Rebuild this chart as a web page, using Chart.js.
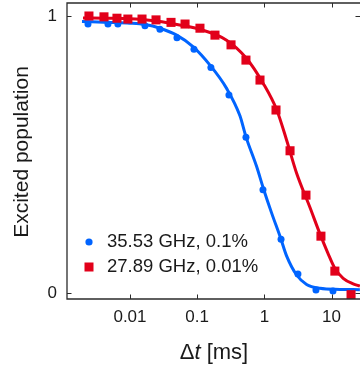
<!DOCTYPE html>
<html lang="en">
<head>
    <meta charset="UTF-8">
    <title>Excited population vs delay</title>
    <style>
        body {
            margin: 0;
            padding: 0;
            background: #ffffff;
        }
        .chart-box {
            width: 360px;
            height: 374px;
        }
    </style>
    <script src="https://cdn.jsdelivr.net/npm/chart.js"></script>
</head>
<body>
    <div class="chart-box">
        <canvas id="decayChart" width="360" height="374"></canvas>
    </div>

    <script>
        // measured points
        const blueX = [0.00237, 0.0047, 0.0066, 0.0167, 0.0279, 0.050, 0.0896, 0.160, 0.297, 0.532, 0.953, 1.77, 3.16, 5.86, 10.5];
        const blueY = [0.971, 0.971, 0.971, 0.965, 0.952, 0.922, 0.880, 0.814, 0.715, 0.563, 0.373, 0.195, 0.070, 0.012, 0.008];

        const redX = [0.00245, 0.0041, 0.0064, 0.0093, 0.0151, 0.0244, 0.0408, 0.066, 0.110, 0.184, 0.319, 0.532, 0.861, 1.49, 2.41, 4.16, 6.95, 11.2, 19.5];
        const redY = [1.0, 0.997, 0.992, 0.989, 0.989, 0.986, 0.977, 0.971, 0.956, 0.931, 0.896, 0.841, 0.769, 0.661, 0.514, 0.354, 0.206, 0.080, -0.005];

        // fit curves
        const blueFitX = [0.00193, 0.00504, 0.01, 0.0167, 0.0279, 0.0495, 0.0874, 0.155, 0.274, 0.433, 0.531, 0.767, 0.961, 1.28, 1.74, 2.14, 3.02, 4.25, 6.70, 13.3, 26.4];
        const blueFitY = [0.980, 0.977, 0.974, 0.969, 0.956, 0.931, 0.889, 0.823, 0.739, 0.640, 0.565, 0.457, 0.380, 0.290, 0.200, 0.135, 0.066, 0.032, 0.018, 0.014, 0.013];

        const redFitX = [0.0020, 0.00504, 0.0141, 0.0394, 0.110, 0.274, 0.544, 0.961, 1.53, 2.14, 3.02, 4.76, 6.70, 8.81, 11.2, 14.9, 21.0, 26.4];
        const redFitY = [0.993, 0.992, 0.988, 0.974, 0.952, 0.913, 0.847, 0.757, 0.661, 0.553, 0.433, 0.310, 0.215, 0.145, 0.090, 0.054, 0.034, 0.026];

        const xTicks = [0.01, 0.1, 1, 10];
        const yTicks = [0, 1];

        const seriesLabels = ['35.53 GHz, 0.1%', '27.89 GHz, 0.01%'];

        const blue = '#0064ff';
        const red = '#e2001a';
        const ink = '#1a1a1a';
        const fontName = "'Liberation Sans', Arial, sans-serif";

        function toPoints(xs, ys) {
            return xs.map((x, i) => ({ x: x, y: ys[i] }));
        }

        // frame, inward ticks, titles and legend
        const framePlugin = {
            id: 'frame',
            afterDraw(chart) {
                const ctx = chart.ctx;
                const area = chart.chartArea;
                const xs = chart.scales.x;
                const ys = chart.scales.y;
                const tl = 4.5;

                ctx.save();
                ctx.strokeStyle = '#2b2b2b';
                ctx.lineWidth = 1.3;
                ctx.beginPath();
                ctx.moveTo(area.right + 2, area.top);
                ctx.lineTo(area.left, area.top);
                ctx.lineTo(area.left, area.bottom);
                ctx.lineTo(area.right + 2, area.bottom);
                ctx.stroke();

                ctx.lineWidth = 1;
                ctx.beginPath();
                xTicks.forEach(v => {
                    const px = Math.round(xs.getPixelForValue(v)) + 0.5;
                    ctx.moveTo(px, area.bottom);
                    ctx.lineTo(px, area.bottom - tl);
                    ctx.moveTo(px, area.top);
                    ctx.lineTo(px, area.top + tl);
                });
                yTicks.forEach(v => {
                    const py = Math.round(ys.getPixelForValue(v)) + 0.5;
                    ctx.moveTo(area.left, py);
                    ctx.lineTo(area.left + tl, py);
                    ctx.moveTo(area.right, py);
                    ctx.lineTo(area.right - tl, py);
                });
                ctx.stroke();

                // x title: Δt [ms]
                ctx.fillStyle = ink;
                ctx.textBaseline = 'middle';
                const f = '22px ' + fontName;
                const fi = 'italic 22px ' + fontName;
                ctx.font = f;
                const w1 = ctx.measureText('\u0394').width;
                const w3 = ctx.measureText(' [ms]').width;
                ctx.font = fi;
                const w2 = ctx.measureText('t').width;
                let tx = 214 - (w1 + w2 + w3) / 2;
                const ty = 353;
                ctx.font = f;
                ctx.textAlign = 'left';
                ctx.fillText('\u0394', tx, ty);
                ctx.font = fi;
                ctx.fillText('t', tx + w1, ty);
                ctx.font = f;
                ctx.fillText(' [ms]', tx + w1 + w2, ty);

                // y title
                ctx.save();
                ctx.translate(22, 152);
                ctx.rotate(-Math.PI / 2);
                ctx.font = '21px ' + fontName;
                ctx.textAlign = 'center';
                ctx.fillText('Excited population', 0, 0);
                ctx.restore();

                // legend
                ctx.font = '18.5px ' + fontName;
                ctx.textAlign = 'left';
                ctx.fillStyle = blue;
                ctx.beginPath();
                ctx.arc(89, 242, 3.6, 0, Math.PI * 2);
                ctx.fill();
                ctx.fillStyle = red;
                ctx.fillRect(84.5, 262.5, 9, 9);
                ctx.fillStyle = ink;
                ctx.fillText(seriesLabels[0], 107, 242);
                ctx.fillText(seriesLabels[1], 107, 267);
                ctx.restore();
            }
        };

        const ctx = document.getElementById('decayChart').getContext('2d');

        const chart = new Chart(ctx, {
            type: 'scatter',
            data: {
                datasets: [
                    {
                        label: seriesLabels[1],
                        data: toPoints(redX, redY),
                        backgroundColor: red,
                        borderColor: red,
                        borderWidth: 0,
                        pointStyle: 'rect',
                        pointRadius: 6.4,
                        order: 0
                    },
                    {
                        label: 'fit red',
                        data: toPoints(redFitX, redFitY),
                        showLine: true,
                        borderColor: red,
                        borderWidth: 3,
                        pointRadius: 0,
                        cubicInterpolationMode: 'monotone',
                        order: 1
                    },
                    {
                        label: seriesLabels[0],
                        data: toPoints(blueX, blueY),
                        backgroundColor: blue,
                        borderColor: blue,
                        borderWidth: 0,
                        pointStyle: 'circle',
                        pointRadius: 3.5,
                        order: 2
                    },
                    {
                        label: 'fit blue',
                        data: toPoints(blueFitX, blueFitY),
                        showLine: true,
                        borderColor: blue,
                        borderWidth: 3,
                        pointRadius: 0,
                        cubicInterpolationMode: 'monotone',
                        order: 3
                    }
                ]
            },
            options: {
                responsive: false,
                animation: false,
                devicePixelRatio: 1,
                layout: {
                    autoPadding: false,
                    padding: { top: 3, right: 0, left: 0, bottom: 0 }
                },
                scales: {
                    x: {
                        type: 'logarithmic',
                        min: 0.001155,
                        max: 26.5,
                        grid: { display: false, drawTicks: false },
                        border: { display: false },
                        afterBuildTicks: scale => {
                            scale.ticks = xTicks.map(v => ({ value: v }));
                        },
                        afterFit: scale => {
                            scale.height = 75;
                            scale.paddingLeft = 0;
                            scale.paddingRight = 0;
                        },
                        ticks: {
                            color: ink,
                            padding: 8,
                            maxRotation: 0,
                            autoSkip: false,
                            font: { family: fontName, size: 17 },
                            callback: v => String(v)
                        }
                    },
                    y: {
                        min: -0.0206,
                        max: 1.0469,
                        grid: { display: false, drawTicks: false },
                        border: { display: false },
                        afterBuildTicks: scale => {
                            scale.ticks = yTicks.map(v => ({ value: v }));
                        },
                        afterFit: scale => {
                            scale.width = 67;
                            scale.paddingTop = 0;
                            scale.paddingBottom = 0;
                        },
                        ticks: {
                            color: ink,
                            padding: 10,
                            font: { family: fontName, size: 17 },
                            callback: v => String(v)
                        }
                    }
                },
                plugins: {
                    legend: { display: false },
                    tooltip: { enabled: false },
                    title: { display: false }
                }
            },
            plugins: [framePlugin]
        });
    </script>
</body>
</html>
